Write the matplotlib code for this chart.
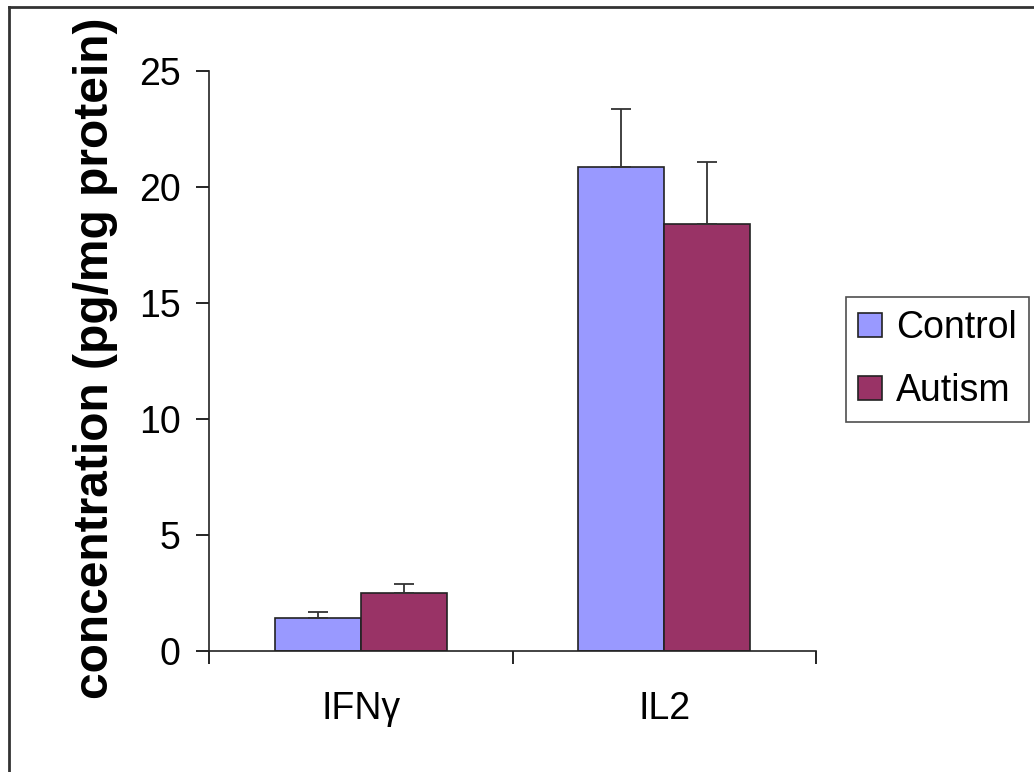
import matplotlib
matplotlib.use("Agg")
import matplotlib.pyplot as plt
from matplotlib.lines import Line2D
import numpy as np

plt.rcParams['font.family'] = ['Liberation Sans', 'DejaVu Sans']

categories = ["IFNγ", "IL2"]
series = ["Control", "Autism"]
control = [1.41, 20.87]
autism = [2.49, 18.42]
control_err = [0.27, 2.48]
autism_err = [0.38, 2.67]
yticks = [0, 5, 10, 15, 20, 25]
colors = ["#9999FF", "#993366"]

W, H = 1034, 772
fig = plt.figure(figsize=(W / 100, H / 100), dpi=100)
ax = fig.add_axes([209 / W, 1 - 651 / H, (816 - 209) / W, (651 - 71) / H])

x = np.arange(len(categories)) + 0.5
w = 86 / 303.5
for vals, errs, col, lab, off in [(control, control_err, colors[0], series[0], -w / 2),
                                  (autism, autism_err, colors[1], series[1], w / 2)]:
    ax.bar(x + off, vals, width=w, color=col, edgecolor="#222222", linewidth=1.2, label=lab, zorder=2)
    ax.errorbar(x + off, vals, yerr=[np.zeros(len(errs)), errs], fmt="none",
                ecolor="#333333", elinewidth=1.3, capsize=7.5, capthick=1.3, zorder=3)

ax.set_xlim(0, len(categories))
ax.set_ylim(0, 25)
ax.set_yticks(yticks)
ax.set_yticklabels([str(t) for t in yticks], fontsize=27)
ax.set_xticks(np.arange(len(categories) + 1))
ax.set_xticklabels([])
ax.set_xticks(x, minor=True)
ax.set_xticklabels(categories, minor=True, fontsize=27)
ax.tick_params(axis="x", which="minor", length=0, pad=29)
ax.tick_params(axis="x", which="major", length=9.5, width=1.2, direction="out")
ax.tick_params(axis="y", length=9.5, width=1.2, direction="out", pad=11)
for s in ["top", "right"]:
    ax.spines[s].set_visible(False)
for s in ["left", "bottom"]:
    ax.spines[s].set_linewidth(1.2)
    ax.spines[s].set_color("#222222")

fig.text(96 / W, 1 - 358 / H, "concentration (pg/mg protein)", fontsize=34.5, fontweight="bold",
         rotation=90, ha="center", va="center")

leg = fig.legend(loc="center", bbox_to_anchor=(937.5 / W, 1 - 359.5 / H), fontsize=27,
                 frameon=True, fancybox=False, edgecolor="#222222", handlelength=0.62,
                 handleheight=0.62, handletextpad=0.38, labelspacing=0.72, borderpad=0.34,
                 borderaxespad=0)
leg.get_frame().set_linewidth(1.2)

fig.add_artist(Line2D([9 / W, 9 / W], [0, 1 - 7 / H], color="#333333", lw=2, transform=fig.transFigure))
fig.add_artist(Line2D([9 / W, 1], [1 - 7 / H, 1 - 7 / H], color="#333333", lw=2, transform=fig.transFigure))

fig.savefig("out.png", dpi=100)
